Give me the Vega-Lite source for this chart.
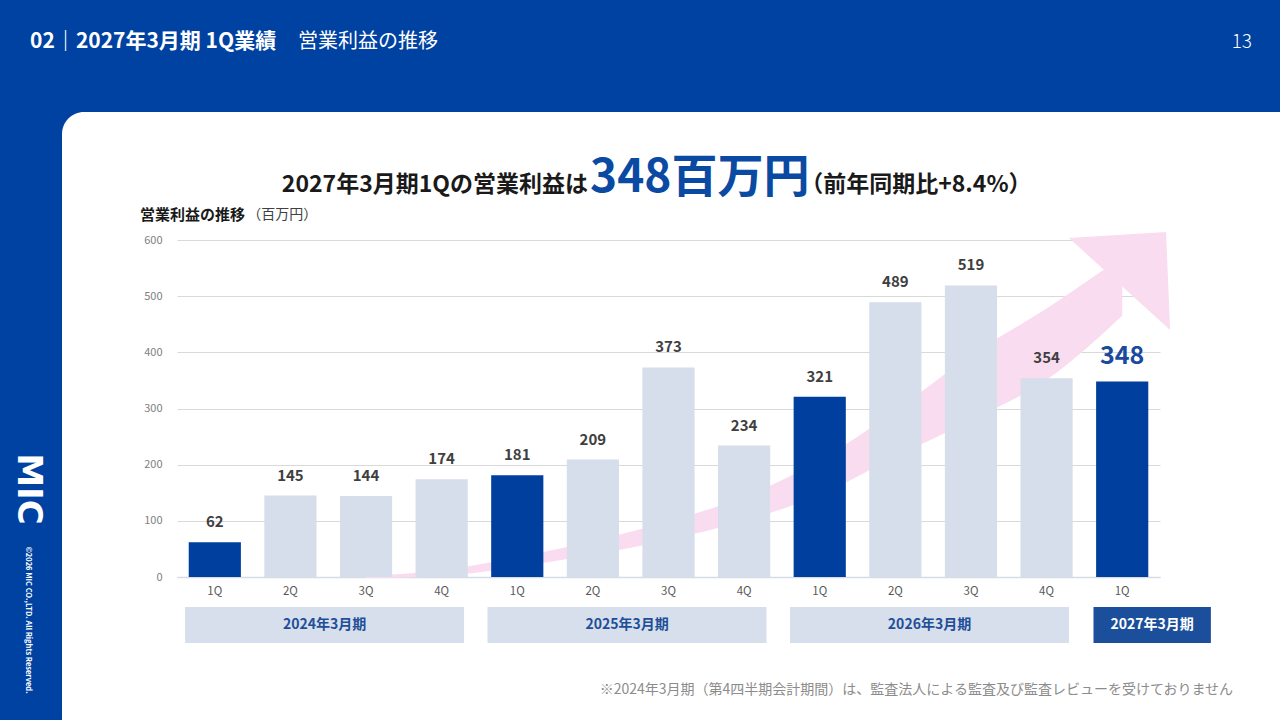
{
  "$schema": "https://vega.github.io/schema/vega-lite/v6.json",
  "width": 1238,
  "height": 628,
  "autosize": {"type": "none"},
  "padding": {"left": 62, "top": 112, "right": -20, "bottom": -20},
  "background": "#0042A1",
  "view": {"fill": "#FFFFFF", "stroke": null, "cornerRadius": 22},
  "config": {"font": "Noto Sans CJK JP"},
  "data": {
    "values": [
      {"q": "2024-1Q", "quarter": "1Q", "v": 62},
      {"q": "2024-2Q", "quarter": "2Q", "v": 145},
      {"q": "2024-3Q", "quarter": "3Q", "v": 144},
      {"q": "2024-4Q", "quarter": "4Q", "v": 174},
      {"q": "2025-1Q", "quarter": "1Q", "v": 181},
      {"q": "2025-2Q", "quarter": "2Q", "v": 209},
      {"q": "2025-3Q", "quarter": "3Q", "v": 373},
      {"q": "2025-4Q", "quarter": "4Q", "v": 234},
      {"q": "2026-1Q", "quarter": "1Q", "v": 321},
      {"q": "2026-2Q", "quarter": "2Q", "v": 489},
      {"q": "2026-3Q", "quarter": "3Q", "v": 519},
      {"q": "2026-4Q", "quarter": "4Q", "v": 354},
      {"q": "2027-1Q", "quarter": "1Q", "v": 348}
    ]
  },
  "layer": [
    {
      "data": {"values": [
        {"q": "2024-3Q", "lo": -2, "hi": 2},
        {"q": "2024-4Q", "lo": 2, "hi": 12},
        {"q": "2025-1Q", "lo": 18, "hi": 35},
        {"q": "2025-2Q", "lo": 40, "hi": 64},
        {"q": "2025-3Q", "lo": 66, "hi": 99},
        {"q": "2025-4Q", "lo": 100, "hi": 143},
        {"q": "2026-1Q", "lo": 146, "hi": 208},
        {"q": "2026-2Q", "lo": 214, "hi": 296},
        {"q": "2026-3Q", "lo": 279, "hi": 395},
        {"q": "2026-4Q", "lo": 351, "hi": 478},
        {"q": "2027-1Q", "lo": 465, "hi": 570}
      ]},
      "mark": {"type": "area", "color": "#FADCF0", "interpolate": "monotone"},
      "encoding": {
        "x": {"field": "q", "type": "nominal", "title": null},
        "y": {"field": "lo", "type": "quantitative", "title": null},
        "y2": {"field": "hi"}
      }
    },
    {
      "data": {"values": [{"q": "2027-1Q", "v": 527}]},
      "mark": {"type": "point", "shape": "M-1,-0.85L0.92,-0.97L1,0.97Z", "size": 10200, "filled": true, "color": "#FADCF0", "opacity": 1, "strokeWidth": 0},
      "encoding": {
        "x": {"field": "q", "type": "nominal", "bandPosition": 0.45, "title": null},
        "y": {"field": "v", "type": "quantitative", "title": null}
      }
    },
    {
      "mark": {"type": "bar"},
      "encoding": {
        "x": {
          "field": "q", "type": "nominal", "title": null,
          "scale": {
            "domain": ["2024-1Q", "2024-2Q", "2024-3Q", "2024-4Q", "2025-1Q", "2025-2Q", "2025-3Q", "2025-4Q", "2026-1Q", "2026-2Q", "2026-3Q", "2026-4Q", "2027-1Q"],
            "range": [115, 1098], "paddingInner": 0.31, "paddingOuter": 0.155
          },
          "axis": {"orient": "bottom", "offset": -163, "ticks": false, "labelAngle": 0, "labelAlign": "center", "labelBaseline": "top", "bandPosition": 0.5, "labelExpr": "split(datum.value, '-')[1]", "labelColor": "#595959", "labelFontSize": 11.5, "labelPadding": 8, "domainColor": "#D5DCE6", "domainWidth": 1.5, "grid": false}
        },
        "y": {
          "field": "v", "type": "quantitative", "title": null,
          "scale": {"domain": [0, 600], "range": [465, 128], "nice": false, "zero": true},
          "axis": {"orient": "left", "offset": -116, "values": [0, 100, 200, 300, 400, 500, 600], "ticks": false, "domain": false, "labelColor": "#808080", "labelFontSize": 11, "labelPadding": 16, "grid": true, "gridColor": "#D9D9D9", "gridWidth": 1}
        },
        "color": {"condition": {"test": "datum.quarter === '1Q'", "value": "#003F9E"}, "value": "#D5DEEA"}
      }
    },
    {
      "transform": [{"filter": "datum.q !== '2027-1Q'"}],
      "mark": {"type": "text", "baseline": "middle", "dy": -20, "fontSize": 15, "fontWeight": "bold", "color": "#3F3F3F"},
      "encoding": {
        "x": {"field": "q", "type": "nominal", "title": null},
        "y": {"field": "v", "type": "quantitative", "title": null},
        "text": {"field": "v"}
      }
    },
    {
      "transform": [{"filter": "datum.q === '2027-1Q'"}],
      "mark": {"type": "text", "baseline": "middle", "dy": -26, "fontSize": 25, "fontWeight": "bold", "color": "#1A4A9E"},
      "encoding": {
        "x": {"field": "q", "type": "nominal", "title": null},
        "y": {"field": "v", "type": "quantitative", "title": null},
        "text": {"field": "v"}
      }
    },
    {
      "data": {"values": [
        {"fy": "2024年3月期", "s": "2024-1Q", "e": "2024-4Q", "m": "2024-2Q"},
        {"fy": "2025年3月期", "s": "2025-1Q", "e": "2025-4Q", "m": "2025-2Q"},
        {"fy": "2026年3月期", "s": "2026-1Q", "e": "2026-4Q", "m": "2026-2Q"}
      ]},
      "layer": [
        {
          "mark": {"type": "rect", "color": "#D6DFEB"},
          "encoding": {
            "x": {"field": "s", "type": "nominal", "bandPosition": -0.07, "title": null},
            "x2": {"field": "e", "bandPosition": 0.93},
            "y": {"datum": -53.4, "type": "quantitative", "title": null},
            "y2": {"datum": -117.5}
          }
        },
        {
          "mark": {"type": "text", "baseline": "middle", "align": "center", "fontSize": 14, "fontWeight": "bold", "color": "#1F4E99"},
          "encoding": {
            "x": {"field": "m", "type": "nominal", "bandPosition": 1.155, "title": null},
            "y": {"datum": -85.5, "type": "quantitative", "title": null},
            "text": {"field": "fy"}
          }
        }
      ]
    },
    {
      "data": {"values": [{"fy": "2027年3月期", "s": "2027-1Q"}]},
      "layer": [
        {
          "mark": {"type": "rect", "color": "#1B4F9C"},
          "encoding": {
            "x": {"field": "s", "type": "nominal", "bandPosition": -0.05, "title": null},
            "x2": {"field": "s", "bandPosition": 2.2},
            "y": {"datum": -53.4, "type": "quantitative", "title": null},
            "y2": {"datum": -117.5}
          }
        },
        {
          "mark": {"type": "text", "baseline": "middle", "align": "center", "fontSize": 14, "fontWeight": "bold", "color": "#FFFFFF"},
          "encoding": {
            "x": {"field": "s", "type": "nominal", "bandPosition": 1.075, "title": null},
            "y": {"datum": -85.5, "type": "quantitative", "title": null},
            "text": {"field": "fy"}
          }
        }
      ]
    },
    {
      "data": {"values": [{"t": "02｜2027年3月期 1Q業績"}]},
      "mark": {"type": "text", "align": "left", "baseline": "middle", "fontSize": 21, "fontWeight": "bold", "color": "#FFFFFF"},
      "encoding": {
        "x": {"datum": "2024-1Q", "type": "nominal", "bandPosition": -3.04, "title": null},
        "y": {"datum": 952.5, "type": "quantitative", "title": null},
        "text": {"field": "t"}
      }
    },
    {
      "data": {"values": [{"t": "営業利益の推移"}]},
      "mark": {"type": "text", "align": "left", "baseline": "middle", "fontSize": 20, "fontWeight": "normal", "color": "#FFFFFF"},
      "encoding": {
        "x": {"datum": "2024-1Q", "type": "nominal", "bandPosition": 2.095, "title": null},
        "y": {"datum": 952.5, "type": "quantitative", "title": null},
        "text": {"field": "t"}
      }
    },
    {
      "data": {"values": [{"t": "13"}]},
      "mark": {"type": "text", "align": "right", "baseline": "middle", "fontSize": 19, "fontWeight": 300, "color": "#FFFFFF"},
      "encoding": {
        "x": {"datum": "2024-1Q", "type": "nominal", "bandPosition": 20.38, "title": null},
        "y": {"datum": 952.5, "type": "quantitative", "title": null},
        "text": {"field": "t"}
      }
    },
    {
      "data": {"values": [{"t": "2027年3月期1Qの営業利益は"}]},
      "mark": {"type": "text", "align": "right", "baseline": "alphabetic", "fontSize": 23, "fontWeight": "bold", "color": "#1A1A1A"},
      "encoding": {
        "x": {"datum": "2024-1Q", "type": "nominal", "bandPosition": 7.653, "title": null},
        "y": {"datum": 685.5, "type": "quantitative", "title": null},
        "text": {"field": "t"}
      }
    },
    {
      "data": {"values": [{"t": "348百万円"}]},
      "mark": {"type": "text", "align": "left", "baseline": "alphabetic", "fontSize": 46, "fontWeight": "bold", "color": "#0B4AA2"},
      "encoding": {
        "x": {"datum": "2024-1Q", "type": "nominal", "bandPosition": 7.692, "title": null},
        "y": {"datum": 685.5, "type": "quantitative", "title": null},
        "text": {"field": "t"}
      }
    },
    {
      "data": {"values": [{"t": "（前年同期比+8.4%）"}]},
      "mark": {"type": "text", "align": "left", "baseline": "alphabetic", "fontSize": 23, "fontWeight": "bold", "color": "#1A1A1A"},
      "encoding": {
        "x": {"datum": "2024-1Q", "type": "nominal", "bandPosition": 11.72, "title": null},
        "y": {"datum": 685.5, "type": "quantitative", "title": null},
        "text": {"field": "t"}
      }
    },
    {
      "data": {"values": [{"t": "営業利益の推移"}]},
      "mark": {"type": "text", "align": "left", "baseline": "middle", "fontSize": 15, "fontWeight": "bold", "color": "#1A1A1A"},
      "encoding": {
        "x": {"datum": "2024-1Q", "type": "nominal", "bandPosition": -0.934, "title": null},
        "y": {"datum": 644.5, "type": "quantitative", "title": null},
        "text": {"field": "t"}
      }
    },
    {
      "data": {"values": [{"t": "（百万円）"}]},
      "mark": {"type": "text", "align": "left", "baseline": "middle", "fontSize": 14, "fontWeight": "normal", "color": "#404040"},
      "encoding": {
        "x": {"datum": "2024-1Q", "type": "nominal", "bandPosition": 1.12, "title": null},
        "y": {"datum": 644.5, "type": "quantitative", "title": null},
        "text": {"field": "t"}
      }
    },
    {
      "data": {"values": [{"t": "※2024年3月期（第4四半期会計期間）は、監査法人による監査及び監査レビューを受けておりません"}]},
      "mark": {"type": "text", "align": "right", "baseline": "middle", "fontSize": 14, "fontWeight": "normal", "color": "#8C8C8C"},
      "encoding": {
        "x": {"datum": "2024-1Q", "type": "nominal", "bandPosition": 20.017, "title": null},
        "y": {"datum": -201.2, "type": "quantitative", "title": null},
        "text": {"field": "t"}
      }
    },
    {
      "data": {"values": [{"t": "MIC"}]},
      "mark": {"type": "text", "align": "center", "baseline": "middle", "angle": 90, "font": "DejaVu Sans", "fontSize": 34, "fontWeight": "bold", "color": "#FFFFFF"},
      "encoding": {
        "x": {"datum": "2024-1Q", "type": "nominal", "bandPosition": -3.081, "title": null},
        "y": {"datum": 156.7, "type": "quantitative", "title": null},
        "text": {"field": "t"}
      }
    },
    {
      "data": {"values": [{"t": "©2026 MIC CO.,LTD. All Rights Reserved."}]},
      "mark": {"type": "text", "align": "center", "baseline": "middle", "angle": 90, "fontSize": 7.5, "fontWeight": "bold", "color": "#FFFFFF"},
      "encoding": {
        "x": {"datum": "2024-1Q", "type": "nominal", "bandPosition": -3.081, "title": null},
        "y": {"datum": -76.6, "type": "quantitative", "title": null},
        "text": {"field": "t"}
      }
    }
  ]
}
